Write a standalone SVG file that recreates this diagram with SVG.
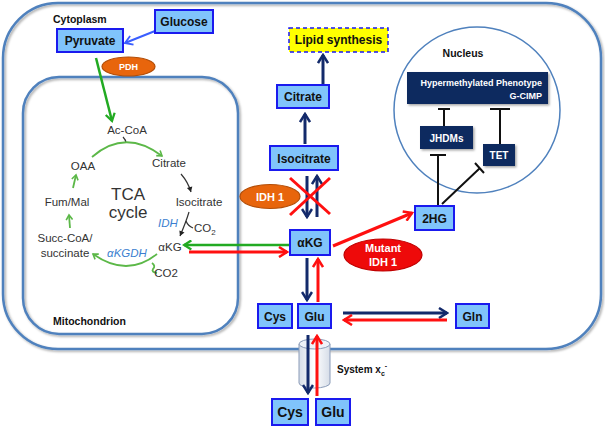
<svg xmlns="http://www.w3.org/2000/svg" width="605" height="427" viewBox="0 0 605 427">
<defs>
<style>
.mem{fill:none;stroke:#4f81bd;stroke-width:2.5}
.box{fill:#80c4fb;stroke:#1a1aee;stroke-width:2}
.bt{font-family:"Liberation Sans",Arial,sans-serif;font-weight:bold;font-size:12px;fill:#111;text-anchor:middle}
.bt2{font-family:"Liberation Sans",Arial,sans-serif;font-weight:bold;font-size:14px;fill:#111;text-anchor:middle}
.lab{font-family:"Liberation Sans",Arial,sans-serif;font-weight:bold;font-size:10.5px;fill:#111}
.wt{font-family:"Liberation Sans",Arial,sans-serif;font-weight:bold;fill:#fff}
.tca{font-family:"Liberation Sans",Arial,sans-serif;font-size:11.5px;fill:#333}
.enz{font-family:"Liberation Sans",Arial,sans-serif;font-size:11.5px;font-style:italic;fill:#3b7fd0}
.navy{stroke:#132a6b;stroke-width:3;fill:none}
.red{stroke:#ff1010;stroke-width:3;fill:none}
.grn{stroke:#22aa22;stroke-width:2.5;fill:none}
.tg{stroke:#5cb848;stroke-width:1.8;fill:none}
.inh{stroke:#111;stroke-width:2;fill:none}
.nb{fill:#0f2a5e}
</style>
<marker id="mN" viewBox="0 0 12 12" refX="10" refY="6" markerWidth="12" markerHeight="12" markerUnits="userSpaceOnUse" orient="auto"><path d="M2,1 L10,6 L2,11" fill="none" stroke="#132a6b" stroke-width="2.5"/></marker>
<marker id="mR" viewBox="0 0 12 12" refX="10" refY="6" markerWidth="12" markerHeight="12" markerUnits="userSpaceOnUse" orient="auto"><path d="M2,1 L10,6 L2,11" fill="none" stroke="#ff1010" stroke-width="2.5"/></marker>
<marker id="mG" viewBox="0 0 12 12" refX="10" refY="6" markerWidth="11" markerHeight="11" markerUnits="userSpaceOnUse" orient="auto"><path d="M2,1 L10,6 L2,11" fill="none" stroke="#22aa22" stroke-width="2.5"/></marker>
<marker id="mB" viewBox="0 0 12 12" refX="10" refY="6" markerWidth="11" markerHeight="11" markerUnits="userSpaceOnUse" orient="auto"><path d="M2,1 L10,6 L2,11" fill="none" stroke="#3a5eff" stroke-width="2"/></marker>
<marker id="mT" viewBox="0 0 10 10" refX="8" refY="5" markerWidth="8" markerHeight="8" markerUnits="userSpaceOnUse" orient="auto"><path d="M2,1 L8,5 L2,9" fill="none" stroke="#5cb848" stroke-width="2"/></marker>
<marker id="mK" viewBox="0 0 10 10" refX="8" refY="5" markerWidth="7" markerHeight="7" markerUnits="userSpaceOnUse" orient="auto"><path d="M1,1 L8,5 L1,9 Z" fill="#222"/></marker>
<linearGradient id="cyl" x1="0" x2="1" y1="0" y2="0"><stop offset="0" stop-color="#d6dde8"/><stop offset="0.5" stop-color="#ffffff"/><stop offset="1" stop-color="#d6dde8"/></linearGradient>
<filter id="sh" x="-10%" y="-10%" width="130%" height="140%"><feDropShadow dx="1.5" dy="1.5" stdDeviation="1" flood-color="#000" flood-opacity="0.35"/></filter>
</defs>
<rect width="605" height="427" fill="#fff"/>

<g id="cell">
<rect class="mem" x="3" y="3" width="598" height="346" rx="55" filter="url(#sh)"/>
<text class="lab" x="53" y="23">Cytoplasm</text>
</g>
<g id="mitochondrion">
<rect class="mem" x="23" y="77" width="215" height="257" rx="36" filter="url(#sh)"/>
<text class="lab" x="53" y="325">Mitochondrion</text>
</g>
<g id="nucleus">
<circle cx="477" cy="110" r="83" fill="#fff" stroke="#4f81bd" stroke-width="1.5"/>
<text class="lab" x="463" y="57" text-anchor="middle">Nucleus</text>
</g>

<g id="connectors">
<line x1="155" y1="31" x2="125" y2="43" stroke="#3a5eff" stroke-width="2" marker-end="url(#mB)"/>
<line class="grn" x1="96" y1="58" x2="112" y2="121" marker-end="url(#mG)"/>
<line class="navy" x1="305" y1="144" x2="305" y2="114" marker-end="url(#mN)"/>
<line class="navy" x1="323" y1="84" x2="323" y2="55" marker-end="url(#mN)"/>
<line class="navy" x1="307" y1="176" x2="307" y2="217" marker-end="url(#mN)"/>
<line class="navy" x1="317" y1="217" x2="317" y2="176" marker-end="url(#mN)"/>
<line class="red" x1="290" y1="178" x2="330" y2="214"/>
<line class="red" x1="330" y1="178" x2="290" y2="215"/>
<line class="grn" x1="289" y1="245" x2="184" y2="245" marker-end="url(#mG)"/>
<line class="red" x1="189" y1="252" x2="287" y2="252" marker-end="url(#mR)"/>
<line class="red" x1="333" y1="246" x2="412" y2="213" marker-end="url(#mR)"/>
<line class="navy" x1="307" y1="258" x2="307" y2="300" marker-end="url(#mN)"/>
<line class="red" x1="318" y1="302" x2="318" y2="259" marker-end="url(#mR)"/>
<line class="navy" x1="343" y1="313" x2="447" y2="313" marker-end="url(#mN)"/>
<line class="red" x1="447" y1="320" x2="344" y2="320" marker-end="url(#mR)"/>
<path class="inh" d="M444,126 V109 M438,109 H450"/>
<path class="inh" d="M500,144 V109 M490,109 H510"/>
<path class="inh" d="M438,206 V155 M430,155 H446"/>
<path class="inh" d="M442,204 L480,168 M475,163 L484,173"/>
<path d="M123,137 Q126,140 126,143" stroke="#333" stroke-width="1.2" fill="none"/>
<path class="tg" d="M92,157 Q125,128 162,156" marker-end="url(#mT)"/>
<path d="M181,174 Q188,182 191,192" stroke="#333" stroke-width="1.2" fill="none" marker-end="url(#mK)"/>
<path class="tg" d="M73,188 L76,175" marker-end="url(#mT)"/>
<path class="tg" d="M70,228 L69,215" marker-end="url(#mT)"/>
<path class="tg" d="M157,254 Q127,278 93,254" marker-end="url(#mT)"/>
<path class="tg" d="M152,263 Q156,266 153,269 Q151,272 157,273"/>
<path d="M189,212 Q186,222 180,236" stroke="#333" stroke-width="1.2" fill="none" marker-end="url(#mK)"/>
<path d="M186,221 Q188,226 193,228" stroke="#333" stroke-width="1.2" fill="none"/>
</g>

<g id="pyruvate"><rect class="box" x="57" y="29" width="66" height="23"/><text class="bt" x="90" y="45">Pyruvate</text></g>
<g id="glucose"><rect class="box" x="155" y="10" width="58" height="23"/><text class="bt" x="184" y="26">Glucose</text></g>
<g id="pdh"><ellipse cx="128.5" cy="66.5" rx="26.5" ry="9.5" fill="#e8650c" stroke="#b34e08" stroke-width="1.2"/><text class="wt" x="128.5" y="70" style="font-size:9px" text-anchor="middle">PDH</text></g>

<g id="tca" text-anchor="middle">
<text class="tca" x="127" y="134">Ac-CoA</text>
<text class="tca" x="169" y="167">Citrate</text>
<text class="tca" x="83" y="170">OAA</text>
<text class="tca" x="199" y="206">Isocitrate</text>
<text class="tca" x="67" y="206">Fum/Mal</text>
<text class="tca" x="128" y="200" style="font-size:17px">TCA</text>
<text class="tca" x="128" y="218" style="font-size:17px">cycle</text>
<text class="enz" x="168" y="227">IDH</text>
<text class="tca" x="194" y="232" text-anchor="start">CO<tspan style="font-size:8px" dy="3">2</tspan></text>
<text class="tca" x="65" y="242">Succ-CoA/</text>
<text class="tca" x="65" y="257">succinate</text>
<text class="enz" x="127" y="257">αKGDH</text>
<text class="tca" x="170" y="251">αKG</text>
<text class="tca" x="166" y="277">CO2</text>
</g>

<g id="lipid"><rect x="289" y="28" width="99" height="24" fill="#ffff00" stroke="#1a1aee" stroke-width="1.5" stroke-dasharray="4,3"/><text class="bt" x="338.5" y="44">Lipid synthesis</text></g>
<g id="citrate"><rect class="box" x="277" y="85" width="52" height="23"/><text class="bt" x="303" y="101">Citrate</text></g>
<g id="isocitrate"><rect class="box" x="270" y="146" width="68" height="24"/><text class="bt" x="304" y="162.5">Isocitrate</text></g>
<g id="idh1"><ellipse cx="270" cy="196.5" rx="30" ry="12" fill="#e8650c" stroke="#b34e08" stroke-width="1.2"/><text class="wt" x="270" y="200.5" style="font-size:11px" text-anchor="middle">IDH 1</text></g>
<g id="akg"><rect class="box" x="290" y="230" width="40" height="25"/><text class="bt" x="310" y="247">αKG</text></g>
<g id="mutant-idh1" text-anchor="middle"><ellipse cx="383" cy="255" rx="39" ry="16" fill="#ee0a0a" stroke="#c00000" stroke-width="1.2"/><text class="wt" x="383" y="252" style="font-size:11px">Mutant</text><text class="wt" x="383" y="266" style="font-size:11px">IDH 1</text></g>
<g id="2hg"><rect class="box" x="415" y="206" width="39" height="24"/><text class="bt" x="434.5" y="222.5">2HG</text></g>
<g id="hypermethylated" text-anchor="end"><rect class="nb" x="407" y="72" width="141" height="32" filter="url(#sh)"/><text class="wt" x="542" y="86" style="font-size:9px">Hypermethylated Phenotype</text><text class="wt" x="542" y="99" style="font-size:9px">G-CIMP</text></g>
<g id="jhdms" text-anchor="middle"><rect class="nb" x="420" y="126" width="53" height="23" filter="url(#sh)"/><text class="wt" x="446.5" y="141.5" style="font-size:10px">JHDMs</text></g>
<g id="tet" text-anchor="middle"><rect class="nb" x="483" y="144" width="32" height="22" filter="url(#sh)"/><text class="wt" x="499" y="159" style="font-size:10px">TET</text></g>
<g id="cys"><rect class="box" x="258" y="304" width="34" height="24"/><text class="bt" x="275" y="320.5">Cys</text></g>
<g id="glu"><rect class="box" x="298" y="304" width="33" height="24"/><text class="bt" x="314.5" y="320.5">Glu</text></g>
<g id="gln"><rect class="box" x="456" y="304" width="33" height="24"/><text class="bt" x="472.5" y="320.5">Gln</text></g>

<g id="system-xc">
<path d="M299,344 V383 A15.5,5 0 0 0 330,383 V344" fill="url(#cyl)" stroke="#8a9bb8" stroke-width="1"/>
<ellipse cx="314.5" cy="344" rx="15.5" ry="5" fill="#eef2f8" stroke="#8a9bb8" stroke-width="1"/>
<line class="navy" x1="308" y1="335" x2="308" y2="393" marker-end="url(#mN)"/>
<line class="red" x1="317" y1="396" x2="317" y2="336" marker-end="url(#mR)"/>
<text class="lab" x="337" y="373" style="font-size:10px">System x<tspan style="font-size:7px" dy="3">c</tspan><tspan style="font-size:7px" dy="-8">-</tspan></text>
</g>
<g id="cys-out"><rect class="box" x="272" y="399" width="36" height="26"/><text class="bt2" x="290" y="417">Cys</text></g>
<g id="glu-out"><rect class="box" x="316" y="399" width="34" height="26"/><text class="bt2" x="333" y="417">Glu</text></g>
</svg>
